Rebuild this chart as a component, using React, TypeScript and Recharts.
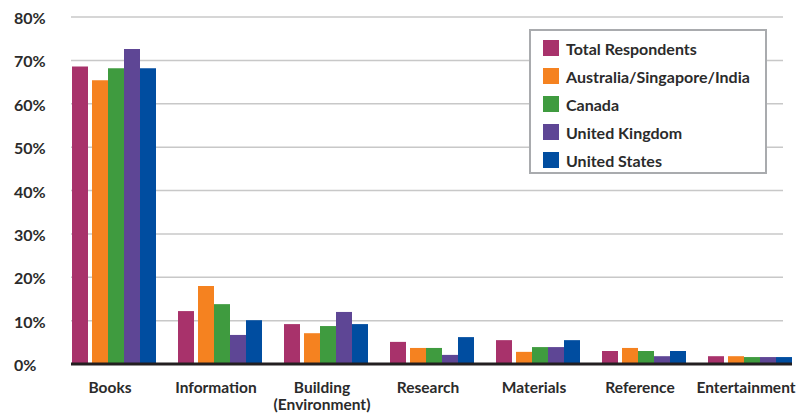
import React from "react";
import { BarChart, Bar, XAxis, YAxis, CartesianGrid, Legend, Rectangle } from "recharts";

const categories = ["Books", "Information", "Building\n(Environment)", "Research", "Materials", "Reference", "Entertainment"];
const totalRespondents = [68.6, 12.2, 9.2, 5.1, 5.5, 3.0, 1.8];
const ausSinInd = [65.4, 18.0, 7.1, 3.7, 2.8, 3.7, 1.8];
const canada = [68.2, 13.8, 8.75, 3.7, 3.9, 3.0, 1.6];
const unitedKingdom = [72.6, 6.7, 12.0, 2.1, 3.9, 1.8, 1.6];
const unitedStates = [68.2, 10.1, 9.2, 6.2, 5.5, 3.0, 1.6];
const yTicks = [0, 10, 20, 30, 40, 50, 60, 70, 80];

const seriesNames = ["Total Respondents", "Australia/Singapore/India", "Canada", "United Kingdom", "United States"];
const seriesKeys = ["total", "asi", "canada", "uk", "us"];
const seriesColors = ["#A8326B", "#F58220", "#3F9B3F", "#5E4695", "#004DA0"];

const data = categories.map((c, i) => ({
  name: c,
  total: totalRespondents[i],
  asi: ausSinInd[i],
  canada: canada[i],
  uk: unitedKingdom[i],
  us: unitedStates[i],
}));

const FONT = "Lato, 'Open Sans', sans-serif";
const TEXT = "#2b2b2b";

const XTick = (props: any) => {
  const { x, y, payload } = props;
  const lines = String(payload.value).split("\n");
  return (
    <g>
      {lines.map((l: string, i: number) => (
        <text key={i} x={x - 4} y={y + 21 + i * 17} textAnchor="middle" fontFamily={FONT} fontWeight={700} fontSize={15.5} fill={TEXT}>
          {l}
        </text>
      ))}
    </g>
  );
};

const YTick = (props: any) => {
  const { y, payload } = props;
  return (
    <text x={6} y={y + 7} textAnchor="start" fontFamily={FONT} fontWeight={700} fontSize={16} fill={TEXT}>
      {payload.value}%
    </text>
  );
};

const TotalShape = (props: any) => {
  const { x, y, width, height, fill } = props;
  return <Rectangle x={x} y={y} width={Math.max(0, width - 4)} height={height} fill={fill} />;
};

const LegendContent = () => (
  <div
    style={{
      boxSizing: "border-box",
      width: 238,
      height: 145,
      border: "2px solid #a9abae",
      background: "#fff",
      paddingTop: 3,
      paddingLeft: 12,
      fontFamily: FONT,
      fontWeight: 700,
      fontSize: 16,
      color: TEXT,
    }}
  >
    {seriesNames.map((n, i) => (
      <div key={n} style={{ display: "flex", alignItems: "center", height: 28 }}>
        <div style={{ width: 16, height: 16, background: seriesColors[i], marginRight: 7 }} />
        <span style={{ whiteSpace: "nowrap" }}>{n}</span>
      </div>
    ))}
  </div>
);

export default function App() {
  return (
    <BarChart
      width={804}
      height={406}
      data={data}
      margin={{ top: 9, right: 20, bottom: 0, left: 0 }}
      barGap={0}
    >
      <CartesianGrid vertical={false} stroke="#c8c8c8" strokeWidth={1.5} x={63} width={712} />
      <XAxis
        dataKey="name"
        interval={0}
        height={50}
        padding={{ left: -10, right: -11 }}
        tick={<XTick />}
        tickLine={false}
        axisLine={{ stroke: "#231f20", strokeWidth: 3 }}
      />
      <YAxis
        width={63}
        domain={[0, 80]}
        ticks={yTicks}
        interval={0}
        tick={<YTick />}
        tickLine={false}
        axisLine={false}
      />
      <Legend
        layout="vertical"
        verticalAlign="middle"
        align="center"
        content={<LegendContent />}
        wrapperStyle={{ position: "absolute", top: 21, left: 521, width: 238, height: 145 }}
      />
      {seriesKeys.map((k, i) => (
        <Bar
          key={k}
          dataKey={k}
          name={seriesNames[i]}
          fill={seriesColors[i]}
          barSize={i === 0 ? 20 : 16}
          shape={i === 0 ? <TotalShape /> : undefined}
          isAnimationActive={false}
        />
      ))}
    </BarChart>
  );
}
